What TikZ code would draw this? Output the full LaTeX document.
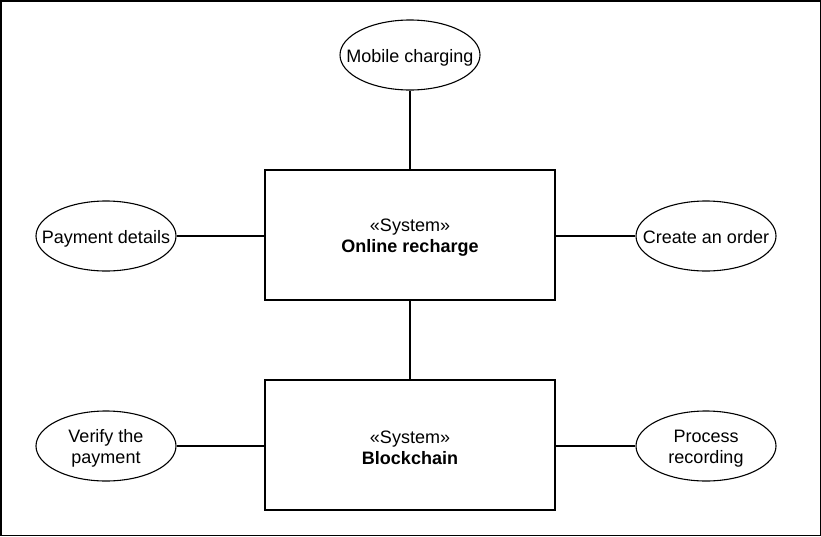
\documentclass[tikz,border=0pt]{standalone}
\usepackage{fontspec}
\setmainfont{Liberation Sans}
\usetikzlibrary{shapes.geometric}
\begin{document}
\begin{tikzpicture}[x=1pt,y=-1pt,
  txt/.style={font=\fontsize{18}{21}\selectfont,align=center,yshift=-2.5pt},
  oneline/.style={txt,text height=13pt,text depth=3.8pt,yshift=-0.5pt},
  usecase/.style={draw,ellipse,line width=1.1pt,minimum width=140pt,minimum height=70pt,inner sep=0pt},
  sysbox/.style={draw,rectangle,line width=1.3pt,minimum width=290pt,minimum height=130pt,inner sep=0pt},
  conn/.style={line width=1.3pt}]
\useasboundingbox (0,0) rectangle (821,536);
\draw[line width=1.5pt] (0.75,0.75) rectangle (820.25,535.25);
\node[usecase] (mobile) at (410,55) {};
\node[sysbox] (online) at (410,235) {};
\node[usecase] (payment) at (106,236) {};
\node[usecase] (order) at (706,236) {};
\node[sysbox] (chain) at (410,445) {};
\node[usecase] (verify) at (106,446) {};
\node[usecase] (process) at (706,446) {};
\node[oneline] (tmobile) at (mobile) {Mobile charging};
\node[txt] (tonline) at (online) {«System»\\\textbf{Online recharge}};
\node[oneline] (tpayment) at (payment) {Payment details};
\node[oneline] (torder) at (order) {Create an order};
\node[txt] (tchain) at (chain) {«System»\\\textbf{Blockchain}};
\node[txt] (tverify) at (verify) {Verify the\\payment};
\node[txt] (tprocess) at (process) {Process\\recording};
\draw[conn] (mobile) -- (online);
\draw[conn] (payment) -- (online.west |- payment);
\draw[conn] (online.east |- order) -- (order);
\draw[conn] (online) -- (chain);
\draw[conn] (verify) -- (chain.west |- verify);
\draw[conn] (chain.east |- process) -- (process);
\end{tikzpicture}
\end{document}
